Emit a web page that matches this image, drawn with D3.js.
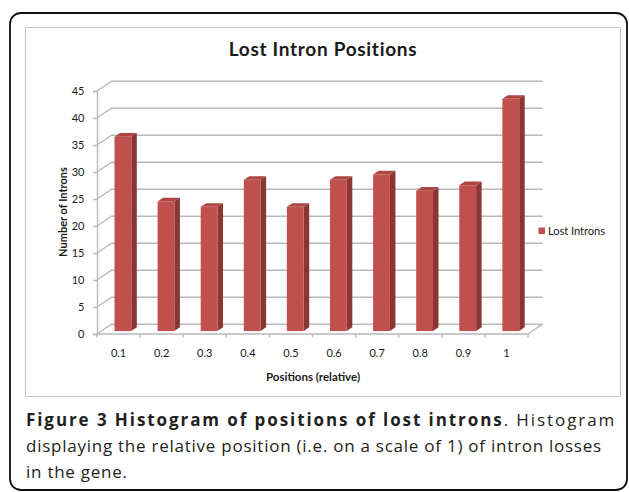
<!DOCTYPE html>
<html>
<head>
<meta charset="utf-8">
<script src="https://cdn.jsdelivr.net/npm/d3@7"></script>
<style>
  body { margin: 0; background: #fff; }
  svg { display: block; }
  .chart text { font-family: Lato, "Open Sans", sans-serif; fill: #1a1a1a; }
  .caption { font-family: "Open Sans", sans-serif; font-size: 17px; letter-spacing: 0.75px; fill: #231f20; }
</style>
</head>
<body>
<div class="chart1"></div>
<script>
var categories = ["0.1", "0.2", "0.3", "0.4", "0.5", "0.6", "0.7", "0.8", "0.9", "1"],
    lostIntrons = [36, 24, 23, 28, 23, 28, 29, 26, 27, 43],
    yTicks = [0, 5, 10, 15, 20, 25, 30, 35, 40, 45],
    seriesName = "Lost Introns";

var outerWidth = 629,
    outerHeight = 492,
    plot = {left: 97, right: 528, top: 91, bottom: 334},
    depth = {x: 14.5, y: -9.8},
    barFront = 0.3, barBack = 0.68,
    colors = {front: "#c0504d", side: "#8a3634", top: "#ad4542", grid: "#b9b9b9"};

var xScale = d3.scaleBand().domain(categories).range([plot.left, plot.right]),
    yScale = d3.scaleLinear().domain([0, 45]).range([plot.bottom, plot.top]);

var svg = d3.select(".chart1").append("svg")
    .attr("width", outerWidth)
    .attr("height", outerHeight);

// outer rounded frame + inner chart area
svg.append("rect")
    .attr("x", 10).attr("y", 13).attr("width", 617).attr("height", 477)
    .attr("rx", 11)
    .style("fill", "none").style("stroke", "#111").style("stroke-width", 1.8);

svg.append("rect")
    .attr("x", 25.5).attr("y", 27.5).attr("width", 595).attr("height", 369)
    .style("fill", "#fff").style("stroke", "#c4c4c4").style("stroke-width", 1);

var chart = svg.append("g").attr("class", "chart");

chart.append("text")
    .attr("x", 323).attr("y", 56)
    .attr("text-anchor", "middle")
    .style("font-size", "19px").style("font-weight", "bold").style("letter-spacing", "0.7px")
    .text("Lost Intron Positions");

// walls: diagonal on side wall + gridline on back wall
var grid = chart.append("g").attr("class", "grid")
    .style("stroke", colors.grid).style("stroke-width", 1.4).style("fill", "none");

grid.selectAll(".gline")
    .data(yTicks)
    .enter().append("path")
    .attr("class", "gline")
    .attr("d", function(d) {
        var y = yScale(d);
        return "M" + plot.left + "," + y +
               "L" + (plot.left + depth.x) + "," + (y + depth.y) +
               "L" + (plot.right + depth.x) + "," + (y + depth.y);
    });

// floor front edge and right edge
grid.append("path")
    .attr("d", "M" + plot.left + "," + yScale(0) + "L" + plot.right + "," + yScale(0) +
               "L" + (plot.right + depth.x) + "," + (yScale(0) + depth.y));

// x ticks on category boundaries
grid.selectAll(".xtick")
    .data(categories.concat(["end"]))
    .enter().append("line")
    .attr("class", "xtick")
    .attr("x1", function(d, i) { return plot.left + i * xScale.bandwidth(); })
    .attr("x2", function(d, i) { return plot.left + i * xScale.bandwidth(); })
    .attr("y1", yScale(0)).attr("y2", yScale(0) + 3.5);

// y axis
var yAxis = d3.axisLeft(yScale).tickValues(yTicks).tickSize(4).tickPadding(8.5);
var yG = chart.append("g")
    .attr("transform", "translate(" + plot.left + ",0)")
    .call(yAxis);
yG.select(".domain").style("stroke", colors.grid).style("stroke-width", 1.4);
yG.selectAll(".tick line").style("stroke", colors.grid).style("stroke-width", 1.4);
yG.selectAll(".tick text").style("font-size", "11px").style("fill", "#1a1a1a")
    .style("font-family", "Lato, sans-serif");

// x axis labels
var xAxis = d3.axisBottom(xScale).tickSize(0).tickPadding(15);
var xG = chart.append("g")
    .attr("transform", "translate(0," + yScale(0) + ")")
    .call(xAxis);
xG.select(".domain").remove();
xG.selectAll(".tick text").style("font-size", "11px").style("fill", "#1a1a1a")
    .style("font-family", "Lato, sans-serif");

// 3D columns
var bw = xScale.bandwidth() * 0.39;
var bars = chart.selectAll(".bar")
    .data(lostIntrons)
    .enter().append("g")
    .attr("class", "bar");

function corner(i, v, f) {
    // front-left corner of bar i at value v, depth fraction f
    var x0 = xScale(categories[i]) + (xScale.bandwidth() - bw) / 2;
    return [x0 + depth.x * f, yScale(v) + depth.y * f];
}

bars.append("path")
    .style("fill", colors.side)
    .attr("d", function(d, i) {
        var a = corner(i, 0, barFront), b = corner(i, 0, barBack),
            c = corner(i, d, barBack), e = corner(i, d, barFront);
        return "M" + (a[0] + bw) + "," + a[1] + "L" + (b[0] + bw) + "," + b[1] +
               "L" + (c[0] + bw) + "," + c[1] + "L" + (e[0] + bw) + "," + e[1] + "Z";
    });

bars.append("path")
    .style("fill", colors.top)
    .attr("d", function(d, i) {
        var e = corner(i, d, barFront), c = corner(i, d, barBack);
        return "M" + e[0] + "," + e[1] + "L" + c[0] + "," + c[1] +
               "L" + (c[0] + bw) + "," + c[1] + "L" + (e[0] + bw) + "," + e[1] + "Z";
    });

bars.append("rect")
    .style("fill", colors.front)
    .attr("x", function(d, i) { return corner(i, d, barFront)[0]; })
    .attr("y", function(d, i) { return corner(i, d, barFront)[1]; })
    .attr("width", bw)
    .attr("height", function(d) { return yScale(0) - yScale(d); });

// axis titles
chart.append("text")
    .attr("x", 313).attr("y", 380.5)
    .attr("text-anchor", "middle")
    .style("font-size", "11.5px").style("font-weight", "bold")
    .text("Positions (relative)");

chart.append("text")
    .attr("transform", "translate(67,212) rotate(-90)")
    .attr("text-anchor", "middle")
    .style("font-size", "11px").style("font-weight", "bold")
    .text("Number of Introns");

// legend
var legend = chart.append("g").attr("transform", "translate(538.5,227.5)");
legend.append("rect").attr("width", 6.5).attr("height", 6.5).style("fill", colors.front);
legend.append("text").attr("x", 9.5).attr("y", 7.5).style("font-size", "11px").text(seriesName);

// caption
var cap1 = svg.append("text").attr("class", "caption")
    .attr("x", 26).attr("y", 426)
    .attr("textLength", 589).attr("lengthAdjust", "spacing");
cap1.append("tspan").style("font-weight", "bold").text("Figure 3 Histogram of positions of lost introns");
cap1.append("tspan").text(". Histogram");

svg.append("text").attr("class", "caption")
    .attr("x", 26).attr("y", 452)
    .text("displaying the relative position (i.e. on a scale of 1) of intron losses");

svg.append("text").attr("class", "caption")
    .attr("x", 26).attr("y", 478)
    .text("in the gene.");
</script>
</body>
</html>
